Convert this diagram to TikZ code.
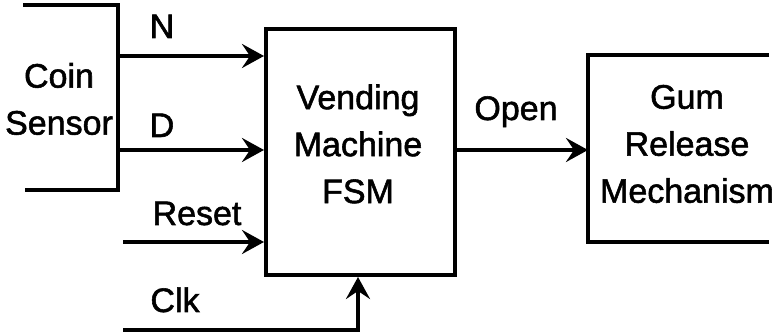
\documentclass[tikz,border=0pt]{standalone}
\usepackage{fontspec}
\setmainfont{Liberation Sans}[BoldFont=Liberation Sans, BoldFeatures={FakeBold=1.6}]
\usetikzlibrary{arrows.meta}
\begin{document}
\begin{tikzpicture}[x=1pt,y=-1pt,
  txt/.style={font=\fontsize{34}{47}\selectfont\bfseries, align=center, inner sep=0pt},
  lbl/.style={font=\fontsize{34}{47}\selectfont\bfseries, inner sep=0pt, anchor=base},
  wire/.style={line width=4pt},
  sig/.style={wire, -{Stealth[length=22pt,width=24pt,inset=8pt]}},
  block/.style={draw, line width=4pt, inner sep=0pt}]
\useasboundingbox (0,0) rectangle (777,336);
% Coin sensor (open on left)
\node[txt] (coin) at (59,99) {Coin\\Sensor};
\coordinate (cTL) at (23,5);
\coordinate (cTR) at (118,5);
\coordinate (cBR) at (118,190);
\coordinate (cBL) at (25,190);
\draw[wire] (cTL) -- (cTR) -- (cBR) -- (cBL);
% FSM
\node[block, minimum width=189pt, minimum height=246pt] (fsm) at (360.5,152) {};
\node[txt] (fsmt) at (358,144) {Vending\\Machine\\FSM};
% Gum release (open on right)
\node[txt] (gum) at (687,144) {Gum\\Release\\Mechanism};
\coordinate (gTR) at (769,55);
\coordinate (gTL) at (588,55);
\coordinate (gBL) at (588,242);
\coordinate (gBR) at (769,242);
\draw[wire] (gTR) -- (gTL) -- (gBL) -- (gBR);
% inputs
\coordinate (nS) at (118,56);
\coordinate (dS) at (118,150);
\coordinate (rS) at (123,242);
\coordinate (kS) at (123,330);
\draw[sig] (nS) -- (nS -| fsm.west);
\draw[sig] (dS) -- (dS -| fsm.west);
\draw[sig] (rS) -- (rS -| fsm.west);
\coordinate (kC) at (358,330);
\draw[sig] (kS) -- (kC) -- (kC |- fsm.south);
% output
\coordinate (oS) at (455,150);
\draw[sig] (oS) -- (oS -| gBL);
% labels
\node[lbl] (nl) at (162,38) {N};
\node[lbl] (dl) at (162,137) {D};
\node[lbl] (rl) at (197,225) {Reset};
\node[lbl] (kl) at (175,312) {Clk};
\node[lbl] (ol) at (516,120) {Open};
\end{tikzpicture}
\end{document}
